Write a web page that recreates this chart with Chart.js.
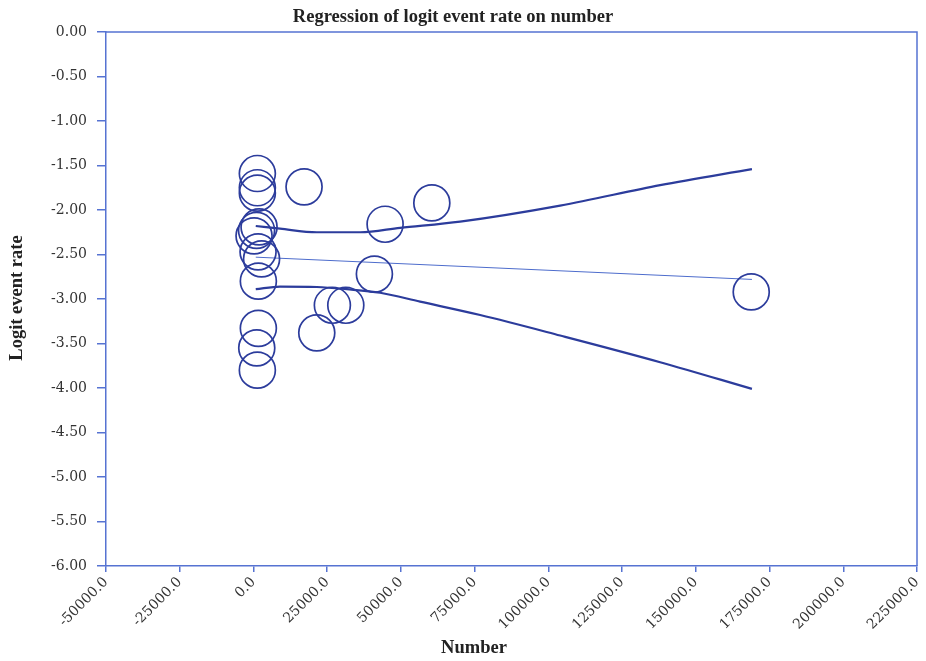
<!DOCTYPE html>
<html>
<head>
<meta charset="utf-8">
<title>Regression of logit event rate on number</title>
<script src="https://cdn.jsdelivr.net/npm/chart.js@4.4.1/dist/chart.umd.min.js"></script>
<style>
  html, body { margin: 0; padding: 0; background: #ffffff; }
  #wrap { width: 926px; height: 661px; }
</style>
</head>
<body>
<div id="wrap"><canvas id="chart" width="926" height="661"></canvas></div>
<script>
// Study-level observations: number of subjects and logit event rate
const studyNumber = [1320, 1320, 1320, 17160, 44640, 60480, 41010, 26760, 31310, 21470,
                     1660, 1120, 1320, 1660, 168790, 1900, 1050, 200, 1560, 2750];
const studyLogit  = [-1.59, -1.75, -1.81, -1.74, -2.16, -1.92, -2.72, -3.07, -3.07, -3.38,
                     -3.33, -3.55, -3.80, -2.80, -2.92, -2.19, -2.23, -2.29, -2.47, -2.55];

// Fitted regression line
const fitNumber = [780, 169030];
const fitLogit  = [-2.53, -2.78];

// Upper and lower confidence limits of the fit
const upperNumber = [780, 9020, 21470, 36150, 49720, 70080, 104000, 137920, 169030];
const upperLogit  = [-2.18, -2.21, -2.25, -2.25, -2.20, -2.13, -1.95, -1.72, -1.54];
const lowerNumber = [780, 9020, 21470, 31650, 42950, 56510, 76870, 104000, 137920, 169030];
const lowerLogit  = [-2.89, -2.86, -2.865, -2.89, -2.93, -3.03, -3.18, -3.41, -3.71, -4.01];

// Axis ranges and tick spacing
const xMin = -50000, xMax = 225000, xStep = 25000;
const yMin = -6, yMax = 0, yStep = 0.5;

const chartTitle = 'Regression of logit event rate on number';
const xTitle = 'Number';
const yTitle = 'Logit event rate';

const axisBlue = '#5673d2';
const markBlue = '#2c3c9c';
const fitBlue  = '#4d6ccc';
const labelFont = 'DejaVu Serif';
const titleFont = 'Liberation Serif';

const pairs = (xs, ys) => xs.map((x, i) => ({ x: x, y: ys[i] }));

// Frame on the top and right edges plus the chart and axis titles
const framePlugin = {
  id: 'frameAndTitles',
  afterDraw(chart) {
    const { ctx, chartArea: a } = chart;
    ctx.save();
    ctx.strokeStyle = axisBlue;
    ctx.lineWidth = 1.5;
    ctx.beginPath();
    ctx.moveTo(a.left, a.top);
    ctx.lineTo(a.right, a.top);
    ctx.lineTo(a.right, a.bottom);
    ctx.stroke();

    ctx.fillStyle = '#222222';
    ctx.textAlign = 'center';
    ctx.textBaseline = 'middle';
    ctx.font = 'bold 18.5px "' + titleFont + '"';
    ctx.fillText(chartTitle, 453, 17);
    ctx.fillText(xTitle, 474, 648);
    ctx.translate(17, 298);
    ctx.rotate(-Math.PI / 2);
    ctx.fillText(yTitle, 0, 0);
    ctx.restore();
  }
};

new Chart(document.getElementById('chart'), {
  type: 'scatter',
  data: {
    datasets: [
      {
        label: 'Studies',
        data: pairs(studyNumber, studyLogit),
        pointStyle: 'circle',
        pointRadius: 18,
        pointHoverRadius: 18,
        pointBackgroundColor: 'rgba(0,0,0,0)',
        pointBorderColor: markBlue,
        pointBorderWidth: 1.7,
        showLine: false
      },
      {
        label: 'Fit',
        data: pairs(fitNumber, fitLogit),
        showLine: true,
        borderColor: fitBlue,
        borderWidth: 1,
        pointRadius: 0
      },
      {
        label: 'Upper limit',
        data: pairs(upperNumber, upperLogit),
        showLine: true,
        borderColor: markBlue,
        borderWidth: 2.2,
        pointRadius: 0,
        cubicInterpolationMode: 'monotone'
      },
      {
        label: 'Lower limit',
        data: pairs(lowerNumber, lowerLogit),
        showLine: true,
        borderColor: markBlue,
        borderWidth: 2.2,
        pointRadius: 0,
        cubicInterpolationMode: 'monotone'
      }
    ]
  },
  options: {
    responsive: false,
    animation: false,
    layout: { autoPadding: false, padding: { top: 32, right: 9, left: 0, bottom: 0 } },
    plugins: {
      legend: { display: false },
      title: { display: false },
      tooltip: { enabled: false }
    },
    scales: {
      x: {
        type: 'linear',
        min: xMin,
        max: xMax,
        afterFit(scale) {
          scale.height = 95;
          scale.paddingLeft = 0;
          scale.paddingRight = 9;
        },
        border: { display: true, color: axisBlue, width: 1.5 },
        grid: { drawOnChartArea: false, drawTicks: true, tickLength: 6, color: axisBlue, lineWidth: 1.5 },
        ticks: {
          stepSize: xStep,
          minRotation: 45,
          maxRotation: 45,
          padding: 2,
          color: '#333333',
          font: { family: labelFont, size: 14 },
          callback: (v) => Number(v).toFixed(1)
        }
      },
      y: {
        type: 'linear',
        min: yMin,
        max: yMax,
        afterFit(scale) {
          scale.width = 106;
          scale.paddingTop = 0;
          scale.paddingBottom = 0;
        },
        border: { display: true, color: axisBlue, width: 1.5 },
        grid: { drawOnChartArea: false, drawTicks: true, tickLength: 9, color: axisBlue, lineWidth: 1.5 },
        ticks: {
          stepSize: yStep,
          padding: 10,
          color: '#333333',
          font: { family: labelFont, size: 14 },
          callback: (v) => Number(v).toFixed(2)
        }
      }
    }
  },
  plugins: [framePlugin]
});
</script>
</body>
</html>
